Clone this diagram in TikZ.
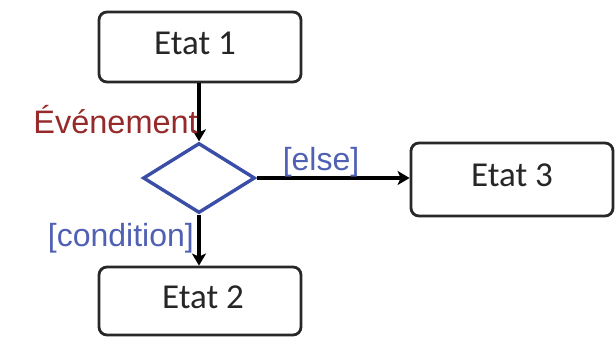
\documentclass[tikz,border=0pt]{standalone}
\usepackage{fontspec}
\setmainfont{Carlito}
\newfontfamily\labelfont{Liberation Sans}
\usetikzlibrary{shapes.geometric,arrows.meta}
\definecolor{evtred}{RGB}{150,42,42}
\definecolor{guardblue}{RGB}{80,96,178}
\definecolor{decblue}{RGB}{58,78,168}
\definecolor{boxline}{RGB}{40,40,40}
\tikzset{
  state/.style={draw=boxline, line width=2.8pt, rounded corners=8pt,
    minimum width=202pt, inner sep=0pt, text=black!85,
    font=\fontsize{35}{38}\selectfont},
  decision/.style={diamond, draw=decblue, line width=3.4pt, inner sep=0pt,
    minimum width=112pt, minimum height=70pt},
  flow/.style={line width=3.6pt, -{Stealth[length=12pt,width=14pt,inset=3pt]}},
  evt/.style={text=evtred, font=\labelfont\fontsize{32.5}{35}\selectfont},
  guard/.style={text=guardblue, font=\labelfont\fontsize{32}{35}\selectfont}
}
\begin{document}
\begin{tikzpicture}[x=1pt,y=-1pt]
  \useasboundingbox (0,0) rectangle (616,337);
  % states
  \node[state, minimum height=70pt] (s1) at (200,47) {};
  \node[state, minimum height=68pt] (s2) at (200,301) {};
  \node[state, minimum height=73pt] (s3) at (512,179.5) {};
  \node[font=\fontsize{35}{38}\selectfont, text=black!85, inner sep=0pt] (t1) at (195,43) {Etat 1};
  \node[font=\fontsize{35}{38}\selectfont, text=black!85, inner sep=0pt] (t2) at (203,297) {Etat 2};
  \node[font=\fontsize{35}{38}\selectfont, text=black!85, inner sep=0pt] (t3) at (512,175) {Etat 3};
  % choice point
  \node[decision] (d) at (199,178) {};
  % transitions
  \draw[flow] (s1.south -| d.north) -- (d.north);
  \draw[flow] (d.south) -- (s2.north -| d.south);
  \draw[flow] (d.east) -- (s3.west |- d.east);
  % labels
  \node[evt, anchor=east, inner sep=0pt] (ev) at (198,120) {Événement};
  \node[guard, anchor=east, inner sep=0pt] (cond) at (194,238) {[condition]};
  \node[guard, inner sep=0pt] (els) at (321,162) {[else]};
\end{tikzpicture}
\end{document}
